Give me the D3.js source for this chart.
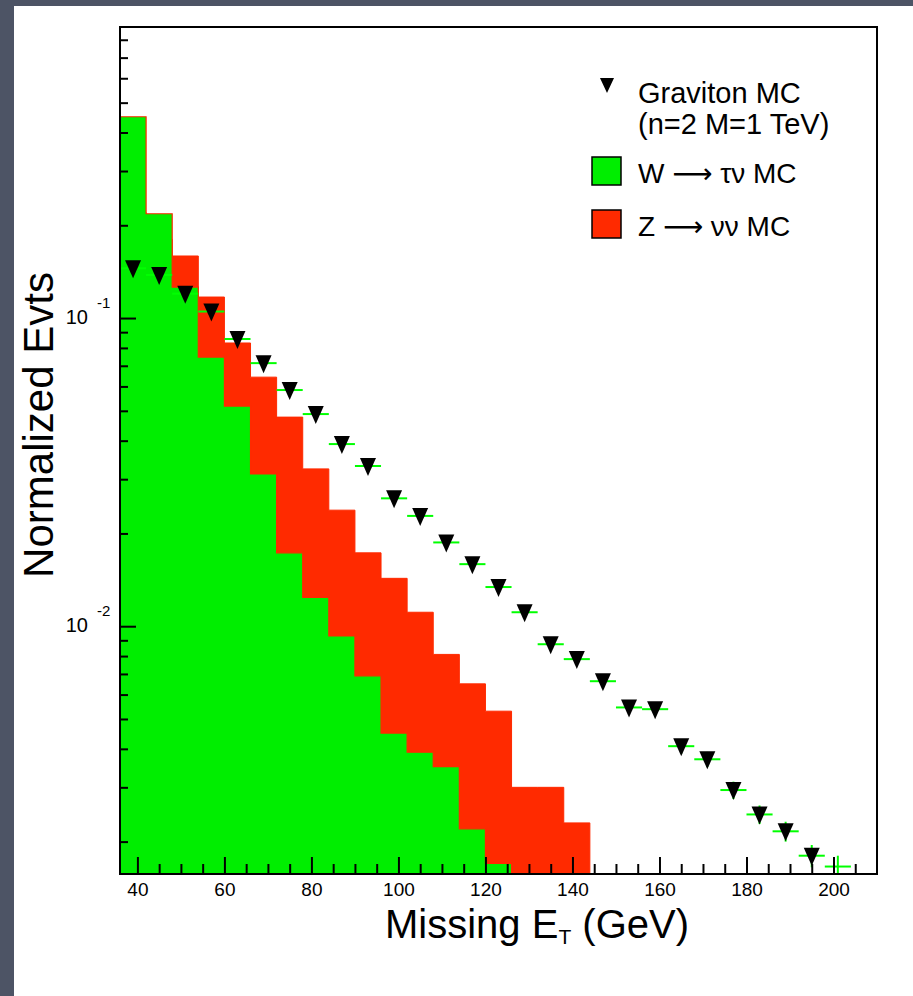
<!DOCTYPE html>
<html>
<head>
<meta charset="utf-8">
<script src="https://cdn.jsdelivr.net/npm/d3@7"></script>
<style>
  body { margin: 0; background: #4d5465; }
  text { font-family: "Liberation Sans", Arial, sans-serif; fill: #000; }
</style>
</head>
<body>
<script>
// bin centres (GeV), bins are 6 GeV wide
var binCenters = [39, 45, 51, 57, 63, 69, 75, 81, 87, 93, 99, 105, 111, 117, 123,
                  129, 135, 141, 147, 153, 159, 165, 171, 177, 183, 189, 195, 201, 207];

// W -> tau nu MC (green)
var wTauNu = [0.450, 0.218, 0.126, 0.0747, 0.0518, 0.0312, 0.0173, 0.0124, 0.0093, 0.0069,
              0.0045, 0.0039, 0.0035, 0.0022, 0.0017, 0, 0, 0, 0, 0,
              0, 0, 0, 0, 0, 0, 0, 0, 0];

// Z -> nu nu MC (red)
var zNuNu = [0.22, 0.18, 0.159, 0.117, 0.083, 0.0643, 0.0477, 0.0324, 0.0238, 0.0173,
             0.0143, 0.0111, 0.0081, 0.0065, 0.0053, 0.0030, 0.0030, 0.0023, 0, 0,
             0, 0, 0, 0, 0, 0, 0, 0, 0];

// Graviton MC (n=2 M=1 TeV) points
var gravX = [39, 45, 51, 57, 63, 69, 75, 81, 87, 93, 99, 105, 111, 117, 123,
             129, 135, 141, 147, 153, 159, 165, 171, 177, 183, 189, 195, 201];
var gravY = [0.145, 0.138, 0.120, 0.105, 0.0855, 0.0714, 0.0584, 0.0488, 0.0390, 0.0331,
             0.0260, 0.0228, 0.0187, 0.0159, 0.0134, 0.0111, 0.00874, 0.00782, 0.00663, 0.00545,
             0.00538, 0.00408, 0.00370, 0.00294, 0.00245, 0.00216, 0.00180, 0.00166];
var gravErr = [0.0013, 0.0013, 0.0012, 0.0011, 0.0010, 0.00093, 0.00084, 0.00077, 0.00069, 0.00063,
               0.00056, 0.00052, 0.00047, 0.00044, 0.00040, 0.00037, 0.00032, 0.00031, 0.00028, 0.00026,
               0.00025, 0.00022, 0.00021, 0.00019, 0.00017, 0.00016, 0.00015, 0.00014];

var xTicksMajor = [40, 60, 80, 100, 120, 140, 160, 180, 200];

var width = 913,
    height = 996;
var pLeft = 120, pRight = 877, pTop = 27, pBottom = 874;
var binW = 6;

var red = '#ff2a00',
    green = '#00ee00',
    errGreen = '#00ff00';

var svg = d3.select('body').append('svg')
   .attr('width', width)
   .attr('height', height);

// slide background + white page
svg.append('rect').attr('width', width).attr('height', height).attr('fill', '#4d5465');
svg.append('rect').attr('x', 14).attr('y', 6).attr('width', width - 14).attr('height', height - 6).attr('fill', '#fff');

var x = d3.scaleLinear().domain([36, 210]).range([pLeft, pRight]);
var y = d3.scaleLog().domain([0.00157, 0.88]).range([pBottom, pTop]);

function yv(v) { return v > 0 ? y(v) : pBottom + 3; }

svg.append('clipPath').attr('id', 'clip')
   .append('rect').attr('x', pLeft).attr('y', pTop).attr('width', pRight - pLeft).attr('height', pBottom - pTop);

var plot = svg.append('g').attr('clip-path', 'url(#clip)');

// step points: bin low edges + last high edge
function stepPoints(vals) {
   var pts = binCenters.map(function(c, i) { return [c - binW / 2, vals[i]]; });
   pts.push([binCenters[binCenters.length - 1] + binW / 2, vals[vals.length - 1]]);
   return pts;
}

var area = d3.area()
   .curve(d3.curveStepAfter)
   .x(function(d) { return x(d[0]); })
   .y0(pBottom + 3)
   .y1(function(d) { return yv(d[1]); });

var line = d3.line()
   .curve(d3.curveStepAfter)
   .x(function(d) { return x(d[0]); })
   .y(function(d) { return yv(d[1]); });

plot.append('path')
   .attr('d', area(stepPoints(zNuNu)))
   .attr('fill', red)
   .attr('stroke', red)
   .attr('stroke-width', 1);

plot.append('path')
   .attr('d', area(stepPoints(wTauNu)))
   .attr('fill', green);

plot.append('path')
   .attr('d', line(stepPoints(wTauNu)))
   .attr('fill', 'none')
   .attr('stroke', red)
   .attr('stroke-width', 1.2);

// graviton error bars
var grav = gravX.map(function(g, i) { return {x: g, y: gravY[i], e: gravErr[i]}; });

plot.selectAll('.hbar')
   .data(grav)
   .enter().append('line')
      .attr('x1', function(d) { return x(d.x - binW / 2); })
      .attr('x2', function(d) { return x(d.x + binW / 2); })
      .attr('y1', function(d) { return y(d.y); })
      .attr('y2', function(d) { return y(d.y); })
      .attr('stroke', errGreen)
      .attr('stroke-width', 2);

plot.selectAll('.vbar')
   .data(grav)
   .enter().append('line')
      .attr('x1', function(d) { return x(d.x); })
      .attr('x2', function(d) { return x(d.x); })
      .attr('y1', function(d) { return yv(d.y - d.e); })
      .attr('y2', function(d) { return y(d.y + d.e); })
      .attr('stroke', errGreen)
      .attr('stroke-width', 2);

// inverted triangle markers, only where the point sits fully inside the frame
var tri = 'M-8,-8L8,-8L0,10Z';
plot.selectAll('.mk')
   .data(grav.filter(function(d) { return d.y - d.e >= y.domain()[0]; }))
   .enter().append('path')
      .attr('d', tri)
      .attr('transform', function(d) { return 'translate(' + x(d.x) + ',' + y(d.y) + ')'; })
      .attr('fill', '#000');

// axes
var xMinor = d3.range(40, 210, 5).filter(function(v) { return v % 20 !== 0; });

svg.append('g')
   .attr('transform', 'translate(0,' + pBottom + ')')
   .call(d3.axisBottom(x).tickValues(xMinor).tickSize(-10).tickFormat(''))
   .call(function(g) { g.select('.domain').remove(); g.selectAll('line').attr('stroke-width', 2); });

var xAx = svg.append('g')
   .attr('transform', 'translate(0,' + pBottom + ')')
   .call(d3.axisBottom(x).tickValues(xTicksMajor).tickSize(-17).tickPadding(9).tickFormat(d3.format('d')));
xAx.select('.domain').remove();
xAx.selectAll('line').attr('stroke-width', 2);
xAx.selectAll('text').attr('font-size', 19).attr('font-family', '"Liberation Sans", Arial, sans-serif');

var yMajor = [0.1, 0.01];
var yMinor = y.ticks().filter(function(v) {
   var l = Math.log10(v);
   return Math.abs(l - Math.round(l)) > 1e-6;
});

svg.append('g')
   .attr('transform', 'translate(' + pLeft + ',0)')
   .call(d3.axisLeft(y).tickValues(yMinor).tickSize(-8).tickFormat(''))
   .call(function(g) { g.select('.domain').remove(); g.selectAll('line').attr('stroke-width', 2); });

var yAx = svg.append('g')
   .attr('transform', 'translate(' + pLeft + ',0)')
   .call(d3.axisLeft(y).tickValues(yMajor).tickSize(-16).tickFormat(''));
yAx.select('.domain').remove();
yAx.selectAll('line').attr('stroke-width', 2);

var yLab = svg.append('g');
yMajor.forEach(function(v) {
   yLab.append('text')
      .attr('x', 88).attr('y', y(v) + 6)
      .attr('text-anchor', 'end')
      .attr('font-size', 20)
      .text('10');
   yLab.append('text')
      .attr('x', 97).attr('y', y(v) - 10)
      .attr('font-size', 15)
      .text('-' + Math.round(-Math.log10(v)));
});

// frame
svg.append('rect')
   .attr('x', pLeft).attr('y', pTop)
   .attr('width', pRight - pLeft).attr('height', pBottom - pTop)
   .attr('fill', 'none')
   .attr('stroke', '#000')
   .attr('stroke-width', 2);

// axis titles
var xt = svg.append('text')
   .attr('x', 385).attr('y', 938)
   .attr('font-size', 40);
xt.append('tspan').text('Missing E');
xt.append('tspan').attr('font-size', 21).attr('dy', 6).text('T');
xt.append('tspan').attr('dy', -6).text(' (GeV)');

svg.append('text')
   .attr('transform', 'translate(53,425) rotate(-90)')
   .attr('text-anchor', 'middle')
   .attr('font-size', 42)
   .text('Normalized Evts');

// legend
var leg = svg.append('g');
leg.append('path').attr('d', 'M-7,-7L7,-7L0,8Z').attr('transform', 'translate(607,85)').attr('fill', '#000');
leg.append('text').attr('x', 638).attr('y', 103).attr('font-size', 29).text('Graviton MC');
leg.append('text').attr('x', 638).attr('y', 134).attr('font-size', 29).text('(n=2 M=1 TeV)');

var legItems = [
   {fill: green, label: ['W ', '\u27f6', ' \u03c4\u03bd MC'], y: 157},
   {fill: red, label: ['Z ', '\u27f6', ' \u03bd\u03bd MC'], y: 210}
];
legItems.forEach(function(d) {
   leg.append('rect')
      .attr('x', 592).attr('y', d.y)
      .attr('width', 29).attr('height', 28)
      .attr('fill', d.fill)
      .attr('stroke', '#000')
      .attr('stroke-width', 1.5);
   var t = leg.append('text')
      .attr('x', 638).attr('y', d.y + 26)
      .attr('font-size', 28);
   t.append('tspan').text(d.label[0]);
   t.append('tspan').attr('font-family', '"DejaVu Sans", sans-serif').text(d.label[1]);
   t.append('tspan').text(d.label[2]);
});
</script>
</body>
</html>
